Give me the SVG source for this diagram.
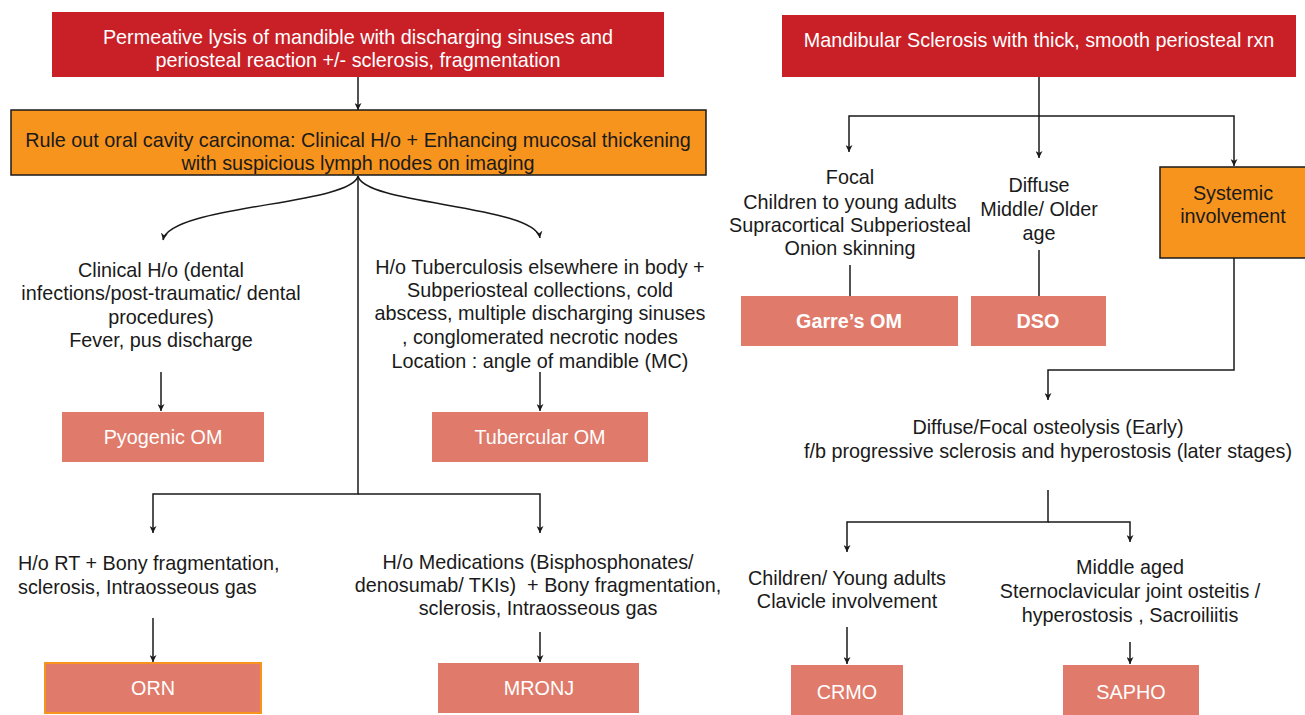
<svg xmlns="http://www.w3.org/2000/svg" width="1305" height="715" viewBox="0 0 1305 715">
<defs>
<style>
text{font-family:"Liberation Sans",Arial,sans-serif;font-size:19.8px;text-anchor:middle;fill:#1a1a1a}
.w{fill:#ffffff}
.b{font-weight:bold}
.red{fill:#c91f27}
.org{fill:#f7941d;stroke:#1a1a1a;stroke-width:1.5}
.sal{fill:#e07a6a}
.conn{fill:none;stroke:#1a1a1a;stroke-width:1.5}
</style>
<marker id="ah" viewBox="0 0 10 10" refX="10" refY="5" markerWidth="7" markerHeight="7" markerUnits="userSpaceOnUse" orient="auto">
<path d="M0,0 L10,5 L0,10 L3,5 z" fill="#1a1a1a"/>
</marker>
</defs>
<rect width="1305" height="715" fill="#ffffff"/>

<g id="connectors" class="conn">
<path d="M358,77 V110" marker-end="url(#ah)"/>
<path d="M358,176 C352,205 170,205 163,240" marker-end="url(#ah)"/>
<path d="M358,176 C364,205 535,205 540,238" marker-end="url(#ah)"/>
<path d="M358,176 V494 H153 V533" marker-end="url(#ah)"/>
<path d="M358,494 H540 V533" marker-end="url(#ah)"/>
<path d="M161,372 V411" marker-end="url(#ah)"/>
<path d="M540,372 V411" marker-end="url(#ah)"/>
<path d="M153,618 V662" marker-end="url(#ah)"/>
<path d="M540,632 V662" marker-end="url(#ah)"/>
<path d="M1039,77 V116 H849 V152" marker-end="url(#ah)"/>
<path d="M1039,116 V158" marker-end="url(#ah)"/>
<path d="M1039,116 H1234 V166" marker-end="url(#ah)"/>
<path d="M850,265 V296"/>
<path d="M1039,250 V296"/>
<path d="M1234,258 V370 H1048 V400" marker-end="url(#ah)"/>
<path d="M1048,490 V522 H847 V552" marker-end="url(#ah)"/>
<path d="M1048,522 H1130 V542" marker-end="url(#ah)"/>
<path d="M847,627 V664" marker-end="url(#ah)"/>
<path d="M1130,642 V664" marker-end="url(#ah)"/>
</g>

<g id="permeative">
<rect class="red" x="52" y="12" width="612" height="65"/>
<text class="w"><tspan x="358" y="44">Permeative lysis of mandible with discharging sinuses and</tspan><tspan x="358" y="67">periosteal reaction +/- sclerosis, fragmentation</tspan></text>
</g>

<g id="ruleout">
<rect class="org" x="11" y="110" width="695" height="65"/>
<text><tspan x="358" y="147">Rule out oral cavity carcinoma: Clinical H/o + Enhancing mucosal thickening</tspan><tspan x="358" y="170">with suspicious lymph nodes on imaging</tspan></text>
</g>

<g id="clinical">
<text><tspan x="161" y="277">Clinical H/o (dental</tspan><tspan x="161" y="300">infections/post-traumatic/ dental</tspan><tspan x="161" y="324">procedures)</tspan><tspan x="161" y="347">Fever, pus discharge</tspan></text>
</g>

<g id="tb-history">
<text><tspan x="540" y="274">H/o Tuberculosis elsewhere in body +</tspan><tspan x="540" y="297">Subperiosteal collections, cold</tspan><tspan x="540" y="320">abscess, multiple discharging sinuses</tspan><tspan x="540" y="344">, conglomerated necrotic nodes</tspan><tspan x="540" y="368">Location : angle of mandible (MC)</tspan></text>
</g>

<g id="pyogenic">
<rect class="sal" x="62" y="412" width="202" height="50"/>
<text class="w" x="163" y="444">Pyogenic OM</text>
</g>

<g id="tubercular">
<rect class="sal" x="432" y="412" width="216" height="50"/>
<text class="w" x="540" y="444">Tubercular OM</text>
</g>

<g id="rt-history">
<text style="text-anchor:start"><tspan x="18" y="570">H/o RT + Bony fragmentation,</tspan><tspan x="18" y="594">sclerosis, Intraosseous gas</tspan></text>
</g>

<g id="med-history">
<text style="white-space:pre"><tspan x="538" y="569">H/o Medications (Bisphosphonates/</tspan><tspan x="538" y="592">denosumab/ TKIs)  + Bony fragmentation,</tspan><tspan x="538" y="615">sclerosis, Intraosseous gas</tspan></text>
</g>

<g id="orn">
<rect class="sal" x="45" y="663" width="216" height="50" stroke="#f7941d" stroke-width="2"/>
<text class="w" x="153" y="695">ORN</text>
</g>

<g id="mronj">
<rect class="sal" x="438" y="663" width="201" height="50"/>
<text class="w" x="539" y="695">MRONJ</text>
</g>

<g id="sclerosis">
<rect class="red" x="782" y="15" width="514" height="62"/>
<text class="w" x="1039" y="47">Mandibular Sclerosis with thick, smooth periosteal rxn</text>
</g>

<g id="focal">
<text><tspan x="850" y="184">Focal</tspan><tspan x="850" y="209">Children to young adults</tspan><tspan x="850" y="232">Supracortical Subperiosteal</tspan><tspan x="850" y="255">Onion skinning</tspan></text>
</g>

<g id="diffuse">
<text><tspan x="1039" y="192">Diffuse</tspan><tspan x="1039" y="216">Middle/ Older</tspan><tspan x="1039" y="240">age</tspan></text>
</g>

<g id="systemic">
<rect class="org" x="1160" y="167" width="150" height="91"/>
<text><tspan x="1233" y="200">Systemic</tspan><tspan x="1233" y="223">involvement</tspan></text>
</g>

<g id="garre">
<rect class="sal" x="741" y="296" width="217" height="50"/>
<text class="w b" x="849" y="328">Garre’s OM</text>
</g>

<g id="dso">
<rect class="sal" x="971" y="296" width="135" height="50"/>
<text class="w b" x="1038" y="328">DSO</text>
</g>

<g id="osteolysis">
<text><tspan x="1048" y="434">Diffuse/Focal osteolysis (Early)</tspan><tspan x="1048" y="458">f/b progressive sclerosis and hyperostosis (later stages)</tspan></text>
</g>

<g id="children">
<text><tspan x="847" y="585">Children/ Young adults</tspan><tspan x="847" y="608">Clavicle involvement</tspan></text>
</g>

<g id="middle-aged">
<text><tspan x="1130" y="574">Middle aged</tspan><tspan x="1130" y="598">Sternoclavicular joint osteitis /</tspan><tspan x="1130" y="622">hyperostosis , Sacroiliitis</tspan></text>
</g>

<g id="crmo">
<rect class="sal" x="791" y="665" width="112" height="50"/>
<text class="w" x="847" y="699">CRMO</text>
</g>

<g id="sapho">
<rect class="sal" x="1063" y="665" width="136" height="50"/>
<text class="w" x="1131" y="699">SAPHO</text>
</g>
</svg>
